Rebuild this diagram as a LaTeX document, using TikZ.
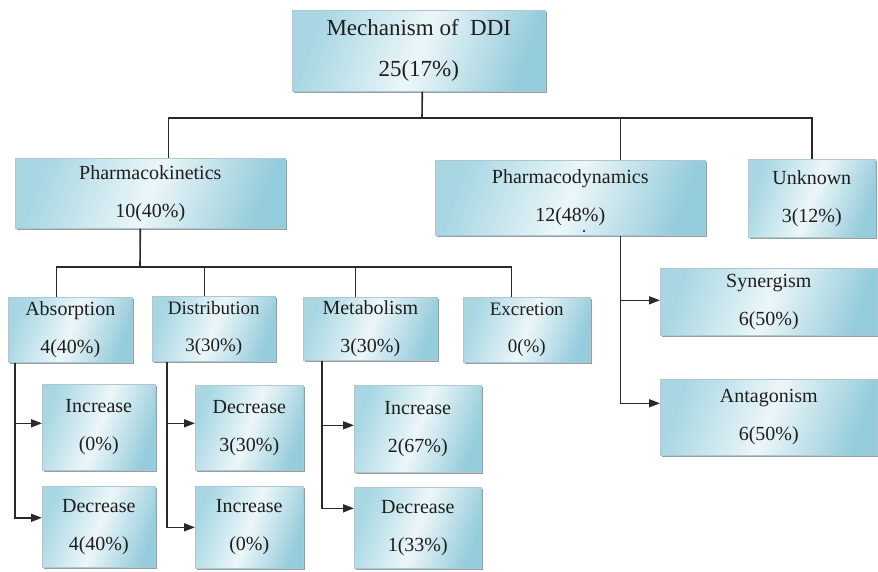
\documentclass[tikz,border=0pt]{standalone}
\usepackage{fontspec}
\setmainfont{Liberation Serif}
\newfontfamily\boxfont{Liberation Serif}
\usetikzlibrary{shadows,arrows.meta}
\definecolor{bl1}{HTML}{A8D7E3}
\definecolor{bl0}{HTML}{ECF6F9}
\definecolor{bl2}{HTML}{95CCDB}
\definecolor{boxedge}{HTML}{AFC7CE}
\definecolor{shadowgray}{HTML}{7F9096}
\definecolor{linec}{HTML}{2A2A2A}
\definecolor{txt}{HTML}{1E1E1E}
\tikzset{
  box/.style={draw=boxedge, line width=0.6pt, left color=bl1, right color=bl2, middle color=bl0,
    shading angle=70, inner sep=0pt, align=center, anchor=north west, text=txt,
    font=\boxfont\fontsize{20}{38}\selectfont,
    drop shadow={shadow xshift=2pt, shadow yshift=-2pt, fill=shadowgray, opacity=0.85}},
  small/.style={font=\boxfont\fontsize{19}{37}\selectfont},
  conn/.style={draw=linec, line width=1.6pt},
  arr/.style={conn, -{Triangle[length=11pt,width=8pt]}}
}
\begin{document}
\begin{tikzpicture}[x=1pt,y=-1pt]
\useasboundingbox[fill=white] (0,0) rectangle (878,571);
% level 0
\node[box, font=\boxfont\fontsize{23}{41}\selectfont, minimum width=253, minimum height=81] (root) at (292,10) {Mechanism of~ DDI\\25(17\%)};
% level 1
\node[box, minimum width=270, minimum height=70] (pk) at (15,158) {Pharmacokinetics\\10(40\%)};
\node[box, minimum width=270, minimum height=75] (pd) at (435,160) {Pharmacodynamics\\12(48\%)};
\node[box, minimum width=127, minimum height=78] (unk) at (748,159) {Unknown\\3(12\%)};
% level 2
\node[box, minimum width=124, minimum height=65] (abs) at (8,297) {Absorption\\4(40\%)};
\node[box, small, minimum width=123, minimum height=65] (dis) at (152,296) {Distribution\\3(30\%)};
\node[box, minimum width=134, minimum height=63] (met) at (303,297) {Metabolism\\3(30\%)};
\node[box, small, minimum width=127, minimum height=65] (exc) at (463,297) {Excretion\\0(\%)};
\node[box, minimum width=217, minimum height=67] (syn) at (660,268) {Synergism\\6(50\%)};
\node[box, minimum width=217, minimum height=76] (ant) at (660,379) {Antagonism\\6(50\%)};
% level 3
\node[box, minimum width=113, minimum height=86] (absinc) at (42,384) {Increase\\(0\%)};
\node[box, minimum width=113, minimum height=81] (absdec) at (42,486) {Decrease\\4(40\%)};
\node[box, minimum width=108, minimum height=85] (disdec) at (195,385) {Decrease\\3(30\%)};
\node[box, minimum width=108, minimum height=82] (disinc) at (195,486) {Increase\\(0\%)};
\node[box, minimum width=127, minimum height=87] (metinc) at (354,385) {Increase\\2(67\%)};
\node[box, minimum width=127, minimum height=81] (metdec) at (354,487) {Decrease\\1(33\%)};
% small dot
\fill[blue!75!black] (584,231) circle (1.2pt);
% junction coordinates
\coordinate (j1) at (422,118);
\coordinate (j2) at (140,267);
% level 0 -> 1
\draw[conn] ([xshift=3.5]root.south) -- (j1);
\draw[conn] ([xshift=18]pk.north) |- (j1) -| (unk.north);
\draw[conn] ([xshift=50]pd.north) -- ([xshift=50]pd.north |- j1);
% level 1 -> 2
\draw[conn] ([xshift=-10]pk.south) -- (j2);
\draw[conn] ([xshift=-14]abs.north) |- (j2) -| ([xshift=-15.5]exc.north);
\draw[conn] ([xshift=-9.5]dis.north) -- ([xshift=-9.5]dis.north |- j2);
\draw[conn] ([xshift=-15]met.north) -- ([xshift=-15]met.north |- j2);
% pharmacodynamics
\draw[arr] ([xshift=50]pd.south) |- ([yshift=1.5]syn.west);
\draw[arr] ([xshift=50]pd.south) |- ([yshift=14]ant.west);
% absorption
\draw[arr] ([xshift=7]abs.south west) |- ([yshift=4]absinc.west);
\draw[arr] ([xshift=7]abs.south west) |- ([yshift=9]absdec.west);
% distribution
\draw[arr] ([xshift=15]dis.south west) |- ([yshift=4.5]disdec.west);
\draw[arr] ([xshift=15]dis.south west) |- ([yshift=0]disinc.west);
% metabolism
\draw[arr] ([xshift=19]met.south west) |- ([yshift=3.5]metinc.west);
\draw[arr] ([xshift=19]met.south west) |- ([yshift=19.5]metdec.west);
\end{tikzpicture}
\end{document}
